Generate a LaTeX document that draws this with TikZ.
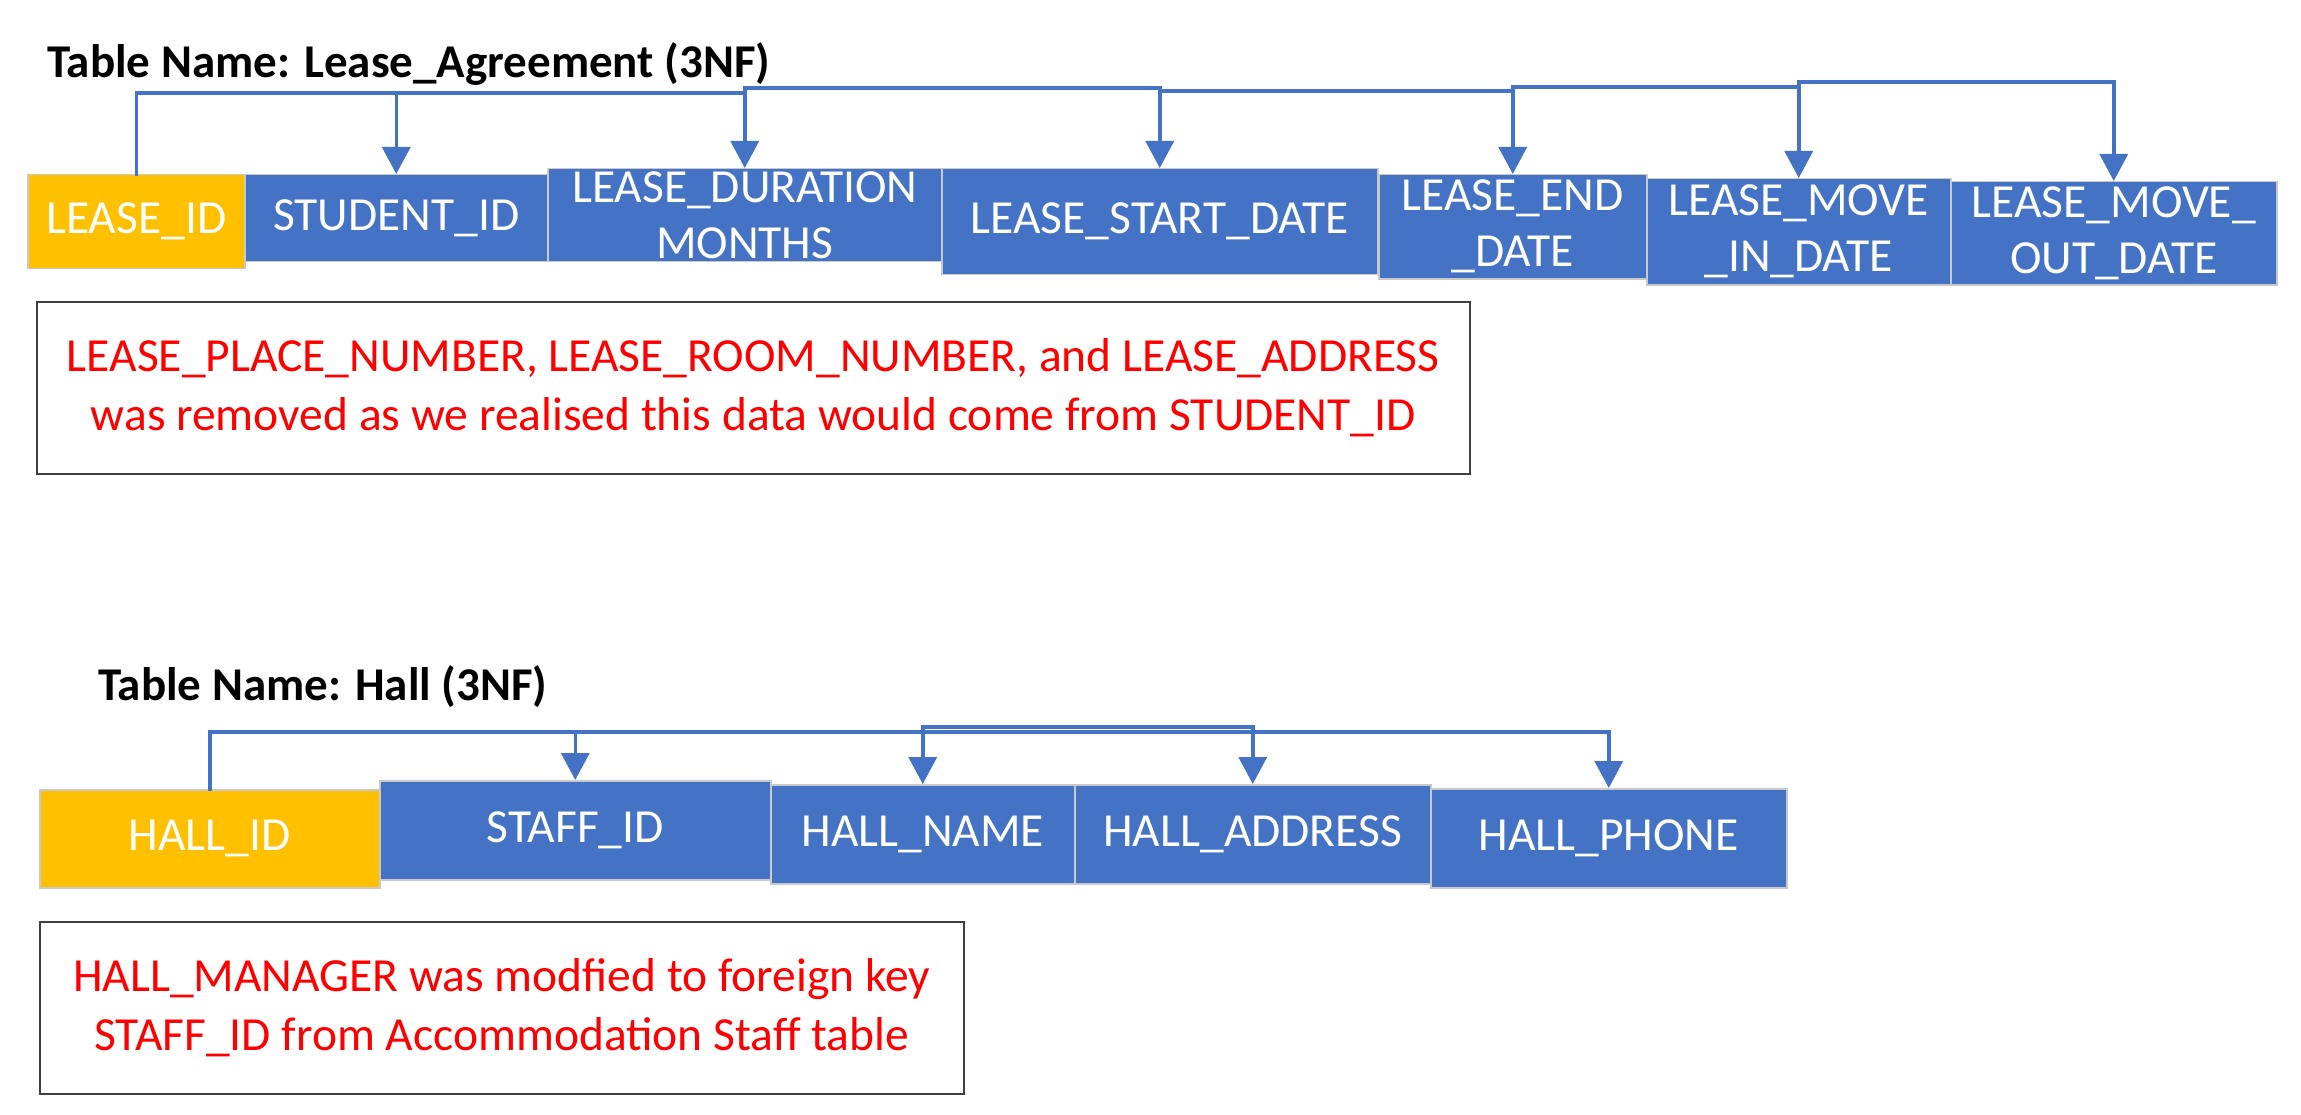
\documentclass[tikz,border=0pt]{standalone}
\usepackage{fontspec}
\setmainfont{Carlito}
\usetikzlibrary{arrows.meta}
\definecolor{cblue}{HTML}{4472C4}
\definecolor{corange}{HTML}{FFC000}
\definecolor{cedge}{HTML}{C9C9C9}
\definecolor{cnote}{HTML}{3F3F3F}
\definecolor{cred}{HTML}{FF0000}
\begin{document}
\begin{tikzpicture}[x=1pt,y=-1pt,
  fbox/.style={draw=cedge, line width=1.5pt, inner sep=0pt, text=white,
    font=\fontsize{47.5}{56}\selectfont, align=center, anchor=north west},
  attrbox/.style={fbox, fill=cblue},
  keybox/.style={fbox, fill=corange},
  conn/.style={draw=cblue, line width=3.5pt, line cap=rect},
  arr/.style={draw=cblue, line width=3.5pt, -{Triangle[length=27pt,width=28pt]}},
  notebox/.style={draw=cnote, line width=1.5pt, text=cred, inner sep=0pt,
    font=\fontsize{47.5}{58.5}\selectfont, align=center, anchor=north west},
  tabtitle/.style={font=\fontsize{47}{56}\selectfont\bfseries, anchor=base west, inner sep=0pt}]
\fill[white] (0,0) rectangle (2301,1115);
\useasboundingbox (0,0) rectangle (2301,1115);

% ---------- Lease_Agreement ----------
\node[tabtitle] (t1) at (47,78) {Table Name: Lease\_Agreement (3NF)};

\node[keybox,  minimum width=217pt, minimum height=94pt]  (lid)    at (27,174)   {LEASE\_ID};
\node[attrbox, minimum width=303pt, minimum height=87pt]  (sid)    at (244,174)  {STUDENT\_ID};
\node[attrbox, minimum width=394pt, minimum height=93pt]  (ldur)   at (547,168)  {LEASE\_DURATION\\MONTHS};
\node[attrbox, minimum width=436pt, minimum height=106pt] (lstart) at (941,168)  {LEASE\_START\_DATE};
\node[attrbox, minimum width=268pt, minimum height=104pt] (lend)   at (1378,174) {LEASE\_END\\\_DATE};
\node[attrbox, minimum width=304pt, minimum height=106pt] (lin)    at (1646,178) {LEASE\_MOVE\\\_IN\_DATE};
\node[attrbox, minimum width=326pt, minimum height=103pt] (lout)   at (1950,181) {LEASE\_MOVE\_\\OUT\_DATE};

\draw[conn] (lid.north) |- (ldur.north |- 0,93);
\draw[conn] (ldur.north |- 0,88) -- (lstart.north |- 0,88);
\draw[conn] (lstart.north |- 0,91) -- (lend.north |- 0,91);
\draw[conn] (lend.north |- 0,87) -- (lin.north |- 0,87);
\draw[conn] (lin.north |- 0,82) -- (lout.north |- 0,82);
\draw[arr] (sid.north |- 0,93) -- (sid.north);
\draw[arr] (ldur.north |- 0,88) -- (ldur.north);
\draw[arr] (lstart.north |- 0,88) -- (lstart.north);
\draw[arr] (lend.north |- 0,87) -- (lend.north);
\draw[arr] (lin.north |- 0,82) -- (lin.north);
\draw[arr] (lout.north |- 0,82) -- (lout.north);

\node[notebox, minimum width=1433pt, minimum height=172pt] (n1) at (36,301)
  {LEASE\_PLACE\_NUMBER, LEASE\_ROOM\_NUMBER, and LEASE\_ADDRESS\\was removed as we realised this data would come from STUDENT\_ID};

% ---------- Hall ----------
\node[tabtitle] (t2) at (98,700) {Table Name: Hall (3NF)};

\node[keybox,  minimum width=340pt, minimum height=98pt] (hid)    at (39,789)   {HALL\_ID};
\node[attrbox, minimum width=391pt, minimum height=99pt] (hsid)   at (379,780)  {STAFF\_ID};
\node[attrbox, minimum width=304pt, minimum height=99pt] (hname)  at (770,784)  {HALL\_NAME};
\node[attrbox, minimum width=356pt, minimum height=99pt] (haddr)  at (1074,784) {HALL\_ADDRESS};
\node[attrbox, minimum width=356pt, minimum height=99pt] (hphone) at (1430,788) {HALL\_PHONE};

\draw[conn] (hid.north) |- (hphone.north |- 0,732);
\draw[conn] (hname.north |- 0,727) -- (haddr.north |- 0,727);
\draw[arr] (hsid.north |- 0,732) -- (hsid.north);
\draw[arr] (hname.north |- 0,727) -- (hname.north);
\draw[arr] (haddr.north |- 0,727) -- (haddr.north);
\draw[arr] (hphone.north |- 0,732) -- (hphone.north);

\node[notebox, minimum width=924pt, minimum height=172pt] (n2) at (39,921)
  {HALL\_MANAGER was modfied to foreign key\\STAFF\_ID from Accommodation Staff table};
\end{tikzpicture}
\end{document}
